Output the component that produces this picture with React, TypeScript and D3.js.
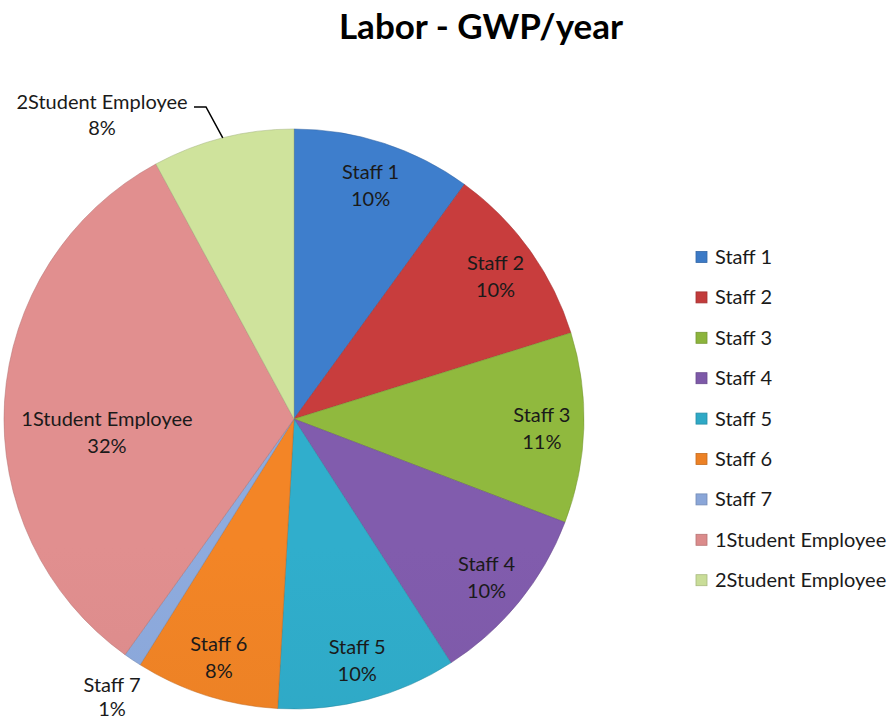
import React from "react";
import * as d3 from "d3";

const categories = ["Staff 1", "Staff 2", "Staff 3", "Staff 4", "Staff 5", "Staff 6", "Staff 7", "1Student Employee", "2Student Employee"];
const values = [10.0, 10.2, 10.6, 10.1, 10.0, 8.0, 1.0, 32.2, 7.9];
const colors = ["#3C7AC6", "#C23B3B", "#8CB43C", "#7D59A8", "#2FA9C6", "#EC8125", "#8AA6D8", "#DB8B8B", "#C9DD98"];
const title = "Labor - GWP/year";

const W = 893, H = 721;
const cx = 294, cy = 419, R = 290;
const FONT = "Lato, 'Open Sans', sans-serif";
const FS = 20;

export default function App() {
  const total = d3.sum(values);
  const pie = d3.pie<number>().sort(null).value((d) => d);
  const arcs = pie(values);
  const arc = d3.arc<d3.PieArcDatum<number>>().innerRadius(0).outerRadius(R);
  const pct = (v: number) => `${Math.round((v / total) * 100)}%`;

  const labelPos = (a: d3.PieArcDatum<number>, i: number): [number, number] => {
    const mid = (a.startAngle + a.endAngle) / 2;
    const name = categories[i];
    if (name === "1Student Employee") return [cx - R * 0.645, cy + 13];
    const r = R * 0.855;
    return [cx + r * Math.sin(mid), cy - r * Math.cos(mid) + 2];
  };

  return (
    <svg width={W} height={H} style={{ display: "block", position: "absolute", left: 0, top: 0, background: "#fff" }}>
      <defs>
        {colors.map((c, i) => (
          <linearGradient key={i} id={`g${i}`} x1={0} y1={cy - R} x2={0} y2={cy + R} gradientUnits="userSpaceOnUse">
            <stop offset="0%" stopColor={d3.color(c)!.brighter(0.08).toString()} />
            <stop offset="100%" stopColor={d3.color(c)!.darker(0.18).toString()} />
          </linearGradient>
        ))}
        {arcs.map((a, i) => (
          <clipPath key={i} id={`c${i}`}>
            <path d={arc(a)!} transform={`translate(${cx},${cy})`} />
          </clipPath>
        ))}
      </defs>
      <text x={481} y={39} textAnchor="middle" fontFamily={FONT} fontWeight="bold" fontSize={35} fill="#000">{title}</text>
      <g>
        {arcs.map((a, i) => (
          <g key={i}>
            <path d={arc(a)!} transform={`translate(${cx},${cy})`} fill={`url(#g${i})`} />
            <path d={arc(a)!} transform={`translate(${cx},${cy})`} fill="none" stroke="#fff" strokeOpacity={0.3} strokeWidth={6} clipPath={`url(#c${i})`} />
            <path d={arc(a)!} transform={`translate(${cx},${cy})`} fill="none" stroke={d3.color(colors[i])!.darker(0.6).toString()} strokeOpacity={0.5} strokeWidth={1} />
          </g>
        ))}
      </g>
      {arcs.map((a, i) => {
        const name = categories[i];
        if (name === "Staff 7" || name === "2Student Employee") return null;
        const [x, y] = labelPos(a, i);
        return (
          <text key={i} x={x} textAnchor="middle" fontFamily={FONT} fontSize={FS} fill="#1a1a1a">
            <tspan x={x} y={y - 6.5}>{name}</tspan>
            <tspan x={x} y={y + 20.5}>{pct(values[i])}</tspan>
          </text>
        );
      })}
      {(() => {
        const i7 = categories.indexOf("Staff 7");
        const iS = categories.indexOf("2Student Employee");
        const aS = arcs[iS];
        const midS = (aS.startAngle + aS.endAngle) / 2;
        const ex = cx + R * Math.sin(midS), ey = cy - R * Math.cos(midS);
        return (
          <g>
            <text x={112} textAnchor="middle" fontFamily={FONT} fontSize={FS} fill="#1a1a1a">
              <tspan x={112} y={692}>{categories[i7]}</tspan>
              <tspan x={112} y={716}>{pct(values[i7])}</tspan>
            </text>
            <text x={102} textAnchor="middle" fontFamily={FONT} fontSize={FS} fill="#1a1a1a">
              <tspan x={102} y={109}>{categories[iS]}</tspan>
              <tspan x={102} y={135}>{pct(values[iS])}</tspan>
            </text>
            <polyline points={`194,107 206,107 ${ex},${ey}`} fill="none" stroke="#000" strokeWidth={1.5} />
          </g>
        );
      })()}
      <g>
        {categories.map((c, i) => {
          const y = 257 + i * 40.4;
          return (
            <g key={i}>
              <rect x={696} y={y - 5.5} width={11} height={11} fill={colors[i]} stroke={d3.color(colors[i])!.darker(0.5).toString()} strokeWidth={0.8} />
              <text x={715} y={y + 7} fontFamily={FONT} fontSize={FS} fill="#1a1a1a">{c}</text>
            </g>
          );
        })}
      </g>
    </svg>
  );
}
